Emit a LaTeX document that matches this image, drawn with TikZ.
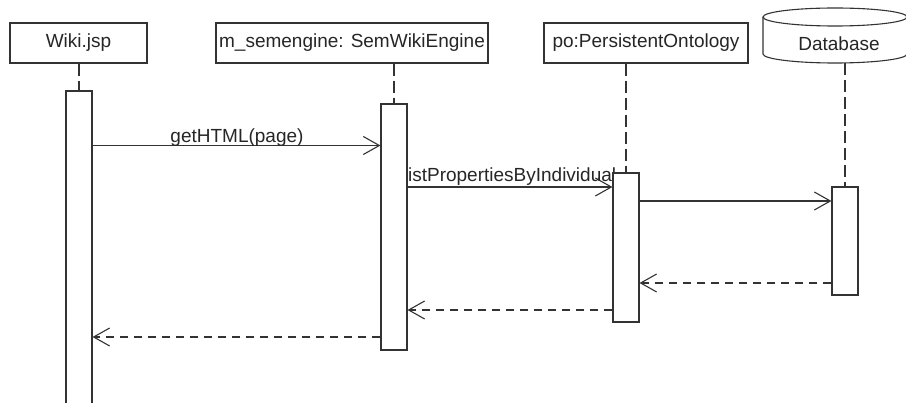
\documentclass[tikz,border=0pt]{standalone}
\usepackage{fontspec}
\setmainfont{Liberation Sans}
\usetikzlibrary{arrows.meta}
\pgfdeclarelayer{bg}
\pgfsetlayers{bg,main}
\begin{document}
\begin{tikzpicture}[x=1pt,y=-1pt,
  ink/.style={draw=black!80, line width=1.1pt},
  headbox/.style={ink, fill=white, rectangle, inner sep=0pt, minimum height=40pt,
    font=\fontsize{19}{22}\selectfont, text=black!85},
  actbar/.style={ink, fill=white, rectangle, inner sep=0pt, minimum width=26pt},
  lifeline/.style={ink, dash pattern=on 12pt off 5pt},
  msg/.style={ink, -{Straight Barb[length=16pt,width=18pt,line width=1.1pt]}},
  retmsg/.style={msg, dash pattern=on 8pt off 6pt},
  msglabel/.style={font=\fontsize{19}{22}\selectfont, text=black!85, inner sep=0pt, anchor=base}]
\useasboundingbox (0,0) rectangle (906,403);
\clip (0,0) rectangle (906,403);

% participant heads
\node[headbox, minimum width=137pt] (wiki) at (78.5,43) {Wiki.jsp};
\node[headbox, minimum width=272pt] (sem) at (352,43) {m\_semengine: SemWikiEngine};
\node[headbox, minimum width=204pt] (po) at (646,43) {po:PersistentOntology};

% database drawn as a cylinder (y axis points down)
\draw[ink, fill=white] (763,17) -- (763,54) arc[start angle=180, end angle=0, x radius=72, y radius=9]
  -- (907,17) arc[start angle=0, end angle=-180, x radius=72, y radius=9] -- cycle;
\draw[ink] (763,17) arc[start angle=180, end angle=0, x radius=72, y radius=9];
\node[font=\fontsize{19}{22}\selectfont, text=black!85, inner sep=0pt] (db) at (839,44) {Database};
\coordinate (dbfoot) at (845,63);

% activation bars
\node[actbar, minimum height=330pt] (wact) at (79,256) {};
\node[actbar, minimum height=246pt] (sact) at (394,227) {};
\node[actbar, minimum height=149pt] (pact) at (626,247.5) {};
\node[actbar, minimum height=108pt] (dact) at (845,241) {};

% message heights
\coordinate (y1) at (0,145.5);
\coordinate (y2) at (0,187);
\coordinate (y3) at (0,201);
\coordinate (y4) at (0,283);
\coordinate (y5) at (0,310);
\coordinate (y6) at (0,337);

\begin{pgfonlayer}{bg}
  % lifelines
  \draw[lifeline] (wact.north |- wiki.south) -- (wact.north);
  \draw[lifeline] (sact.north |- sem.south) -- (sact.north);
  \draw[lifeline] (pact.north |- po.south) -- (pact.north);
  \draw[lifeline] (dact.north |- dbfoot) -- (dact.north);

  % calls
  \draw[msg] (wact.east |- y1) -- (sact.west |- y1);
  \node[msglabel] (l1) at (237,143) {getHTML(page)};
  \draw[msg] (sact.east |- y2) -- (pact.west |- y2);
  \node[msglabel] (l2) at (510,182) {listPropertiesByIndividual};
  \draw[msg] (pact.east |- y3) -- (dact.west |- y3);

  % returns
  \draw[retmsg] (dact.west |- y4) -- (pact.east |- y4);
  \draw[retmsg] (pact.west |- y5) -- (sact.east |- y5);
  \draw[retmsg] (sact.west |- y6) -- (wact.east |- y6);
\end{pgfonlayer}
\end{tikzpicture}
\end{document}
